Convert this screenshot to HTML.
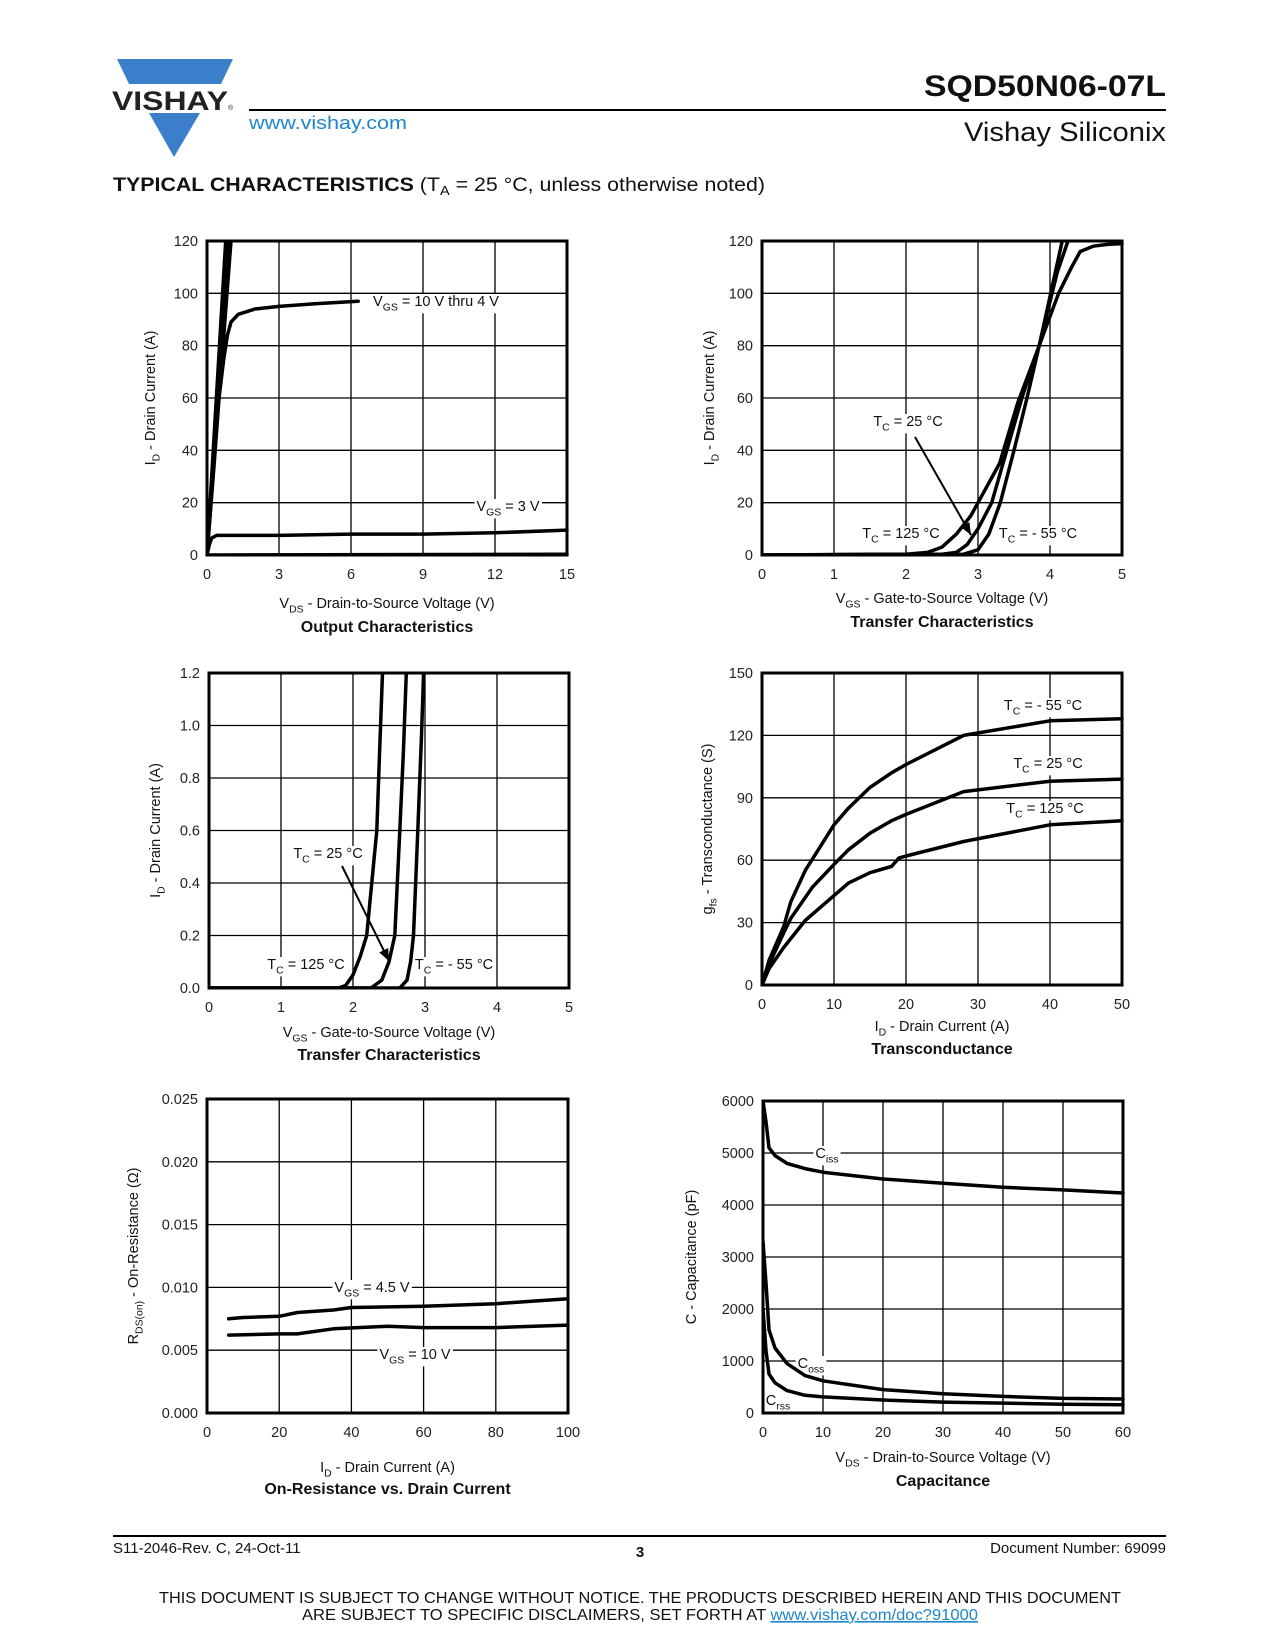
<!DOCTYPE html>
<html><head><meta charset="utf-8"><title>SQD50N06-07L Typical Characteristics</title>
<style>
html,body{margin:0;padding:0;background:#fff;}
svg{display:block;font-family:"Liberation Sans",Arial,sans-serif;}
</style></head>
<body>
<svg id="page" width="1275" height="1650" viewBox="0 0 1275 1650" xmlns="http://www.w3.org/2000/svg">
  <g>
    <polygon points="117,59 233,59 221,84 129,84" fill="#3b7fca"/>
    <text x="112" y="110" font-size="27" font-weight="bold" textLength="116" lengthAdjust="spacingAndGlyphs" fill="#222">VISHAY</text>
    <text x="228" y="110" font-size="7" fill="#222">®</text>
    <polygon points="149,113 200,113 174,157" fill="#3b7fca"/>
  </g>
  <text x="1166" y="96" font-size="30" font-weight="bold" text-anchor="end" textLength="242" lengthAdjust="spacingAndGlyphs" fill="#111">SQD50N06-07L</text>
  <line x1="249" y1="110" x2="1166" y2="110" stroke="#000" stroke-width="2"/>
  <text x="249" y="129" font-size="18" fill="#1e86c8" textLength="158" lengthAdjust="spacingAndGlyphs">www.vishay.com</text>
  <text x="1166" y="141" font-size="27" text-anchor="end" textLength="202" lengthAdjust="spacingAndGlyphs" fill="#111">Vishay Siliconix</text>
  <text x="113" y="191" font-size="19" fill="#111" textLength="652" lengthAdjust="spacingAndGlyphs"><tspan font-weight="bold">TYPICAL CHARACTERISTICS</tspan> (T<tspan font-size="13" dy="4">A</tspan><tspan dy="-4"> = 25 °C, unless otherwise noted)</tspan></text>

  <g id="charts"></g>

  <line x1="113" y1="1536" x2="1166" y2="1536" stroke="#000" stroke-width="2"/>
  <text x="113" y="1553" font-size="15" fill="#111">S11-2046-Rev. C, 24-Oct-11</text>
  <text x="640" y="1557" font-size="15" font-weight="bold" text-anchor="middle" fill="#111">3</text>
  <text x="1166" y="1553" font-size="15" text-anchor="end" fill="#111">Document Number: 69099</text>
  <text x="640" y="1603" font-size="16" text-anchor="middle" textLength="962" lengthAdjust="spacingAndGlyphs" fill="#111">THIS DOCUMENT IS SUBJECT TO CHANGE WITHOUT NOTICE. THE PRODUCTS DESCRIBED HEREIN AND THIS DOCUMENT</text>
  <text x="640" y="1620" font-size="16" text-anchor="middle" fill="#111" textLength="676" lengthAdjust="spacingAndGlyphs">ARE SUBJECT TO SPECIFIC DISCLAIMERS, SET FORTH AT <tspan fill="#1e86c8" text-decoration="underline">www.vishay.com/doc?91000</tspan></text>
</svg>
<script>
// ---------- Chart data ----------
const out_bundleTopV = [0.78, 0.85, 0.92, 1.0];
const out_v4_x = [0, 0.3, 0.5, 0.7, 0.85, 1.0, 1.3, 2, 3, 4.5, 6.3];
const out_v4_y = [0, 35, 60, 75, 84, 89, 92, 94, 95, 96, 97];
const out_v3_x = [0, 0.1, 0.2, 0.4, 3, 6, 9, 12, 15];
const out_v3_y = [0, 4, 6.5, 7.5, 7.5, 8, 8, 8.5, 9.5];
const out_v2_x = [0, 15];
const out_v2_y = [0, 0.3];
const tr_x125 = [0, 2, 2.3, 2.5, 2.7, 2.9, 3.0, 3.3, 3.55, 3.85, 4.17];
const tr_y125 = [0, 0.3, 1, 3, 8, 15, 20, 35, 58, 80, 120];
const tr_x25 = [0, 2.5, 2.7, 2.85, 3.0, 3.19, 3.4, 3.61, 3.85, 4.1, 4.25];
const tr_y25 = [0, 0.3, 1, 4, 10, 20, 40, 60, 80, 108, 120];
const tr_x55 = [0, 2.8, 3.0, 3.15, 3.31, 3.5, 3.68, 3.85, 4.12, 4.3, 4.42, 4.6, 4.8, 5];
const tr_y55 = [0, 0.3, 2, 8, 20, 40, 60, 80, 100, 110, 116, 118, 118.7, 119];
const tl_x125 = [0, 1.8, 1.9, 2.0, 2.1, 2.19, 2.33, 2.37, 2.41];
const tl_y125 = [0, 0, 0.01, 0.05, 0.12, 0.2, 0.6, 0.9, 1.2];
const tl_x25 = [0, 2.25, 2.4, 2.5, 2.58, 2.65, 2.7, 2.74];
const tl_y25 = [0, 0, 0.03, 0.1, 0.2, 0.6, 0.9, 1.2];
const tl_x55 = [0, 2.65, 2.75, 2.8, 2.84, 2.9, 2.95, 2.98];
const tl_y55 = [0, 0, 0.03, 0.1, 0.2, 0.6, 0.95, 1.2];
const gm_x55 = [0, 1, 3, 4, 6, 10, 12, 15, 18, 20, 28, 40, 50];
const gm_y55 = [0, 12, 28, 40, 55, 77, 85, 95, 102, 106, 120, 127, 128];
const gm_x25 = [0, 1, 3, 4, 7, 10, 12, 15, 18, 20, 28, 40, 50];
const gm_y25 = [0, 10, 25, 32, 47, 58, 65, 73, 79, 82, 93, 98, 99];
const gm_x125 = [0, 1, 3, 6, 10, 12, 15, 18, 19, 20, 28, 40, 50];
const gm_y125 = [0, 8, 18, 31, 43, 49, 54, 57, 61, 62, 69, 77, 79];
const rds_x45 = [6, 10, 20, 25, 35, 40, 60, 80, 100];
const rds_y45 = [0.0075, 0.0076, 0.0077, 0.0080, 0.0082, 0.0084, 0.0085, 0.0087, 0.0091];
const rds_x10 = [6, 20, 25, 35, 50, 60, 80, 100];
const rds_y10 = [0.0062, 0.0063, 0.0063, 0.0067, 0.0069, 0.0068, 0.0068, 0.0070];
const cap_x = [0, 0.5, 1, 2, 4, 7, 10, 20, 30, 40, 50, 60];
const cap_ciss = [6000, 5600, 5100, 4950, 4800, 4700, 4630, 4500, 4420, 4340, 4290, 4230];
const cap_coss = [3300, 2500, 1600, 1250, 950, 720, 620, 450, 370, 320, 280, 270];
const cap_crss = [2000, 1200, 750, 580, 430, 340, 310, 250, 210, 190, 170, 160];
const ticks1x = ["0","3","6","9","12","15"], ticks1y = ["0","20","40","60","80","100","120"];
const ticks2x = ["0","1","2","3","4","5"], ticks2y = ["0","20","40","60","80","100","120"];
const ticks3x = ["0","1","2","3","4","5"], ticks3y = ["0.0","0.2","0.4","0.6","0.8","1.0","1.2"];
const ticks4x = ["0","10","20","30","40","50"], ticks4y = ["0","30","60","90","120","150"];
const ticks5x = ["0","20","40","60","80","100"], ticks5y = ["0.000","0.005","0.010","0.015","0.020","0.025"];
const ticks6x = ["0","10","20","30","40","50","60"], ticks6y = ["0","1000","2000","3000","4000","5000","6000"];

// ---------- helpers ----------
const NS = "http://www.w3.org/2000/svg";
const root = document.getElementById("charts");
function mk(tag, attrs, parent) {
  const e = document.createElementNS(NS, tag);
  for (const k in attrs) e.setAttribute(k, attrs[k]);
  (parent || root).appendChild(e);
  return e;
}
function rich(g, x, y, s, size, anchor, bold, bg) {
  const t = mk("text", {x: x, y: y, "font-size": size, "text-anchor": anchor || "middle", fill: "#111"}, g);
  if (bold) t.setAttribute("font-weight", "bold");
  const re = /_\{([^}]*)\}/g; let last = 0, m, down = false;
  function add(str, sub) {
    if (!str) return;
    const ts = document.createElementNS(NS, "tspan");
    ts.textContent = str;
    if (sub) { ts.setAttribute("font-size", size * 0.72); ts.setAttribute("dy", size * 0.3); down = true; }
    else if (down) { ts.setAttribute("dy", -size * 0.3); down = false; }
    t.appendChild(ts);
  }
  while ((m = re.exec(s))) { add(s.slice(last, m.index), false); add(m[1], true); last = re.lastIndex; }
  add(s.slice(last), false);
  if (bg) {
    const b = t.getBBox();
    const r = document.createElementNS(NS, "rect");
    r.setAttribute("x", b.x - 2); r.setAttribute("y", b.y); r.setAttribute("width", b.width + 4); r.setAttribute("height", b.height);
    r.setAttribute("fill", "#fff");
    g.insertBefore(r, t);
  }
  return t;
}
function chart(name, box, xmin, xmax, ymin, ymax, tx, ty, xTitle, yTitle, yTitleX, caption, xTitleY, capY) {
  const g = mk("g", {});
  
  
  const c = {g: g, sx: v => box[0] + (v - xmin) / (xmax - xmin) * (box[2] - box[0]),
             sy: v => box[3] - (v - ymin) / (ymax - ymin) * (box[3] - box[1])};
  const grid = mk("g", {stroke: "#000", "stroke-width": 1.3}, g);
  
  
  for (let i = 1; i < tx.length - 1; i++) { const x = box[0] + i * (box[2] - box[0]) / (tx.length - 1); mk("line", {x1: x, x2: x, y1: box[1], y2: box[3]}, grid); }
  for (let i = 1; i < ty.length - 1; i++) { const y = box[3] - i * (box[3] - box[1]) / (ty.length - 1); mk("line", {x1: box[0], x2: box[2], y1: y, y2: y}, grid); }
  const xt = mk("g", {"font-size": 14.5, fill: "#222", "text-anchor": "middle"}, g);
  
  
  tx.forEach((s, i) => { const t = mk("text", {x: box[0] + i * (box[2] - box[0]) / (tx.length - 1), y: box[3] + 24}, xt); t.textContent = s; });
  const yt = mk("g", {"font-size": 14.5, fill: "#222", "text-anchor": "end"}, g);
  
  
  ty.forEach((s, i) => { const t = mk("text", {x: box[0] - 9, y: box[3] - i * (box[3] - box[1]) / (ty.length - 1) + 5}, yt); t.textContent = s; });
  const cx = (box[0] + box[2]) / 2;
  const xtl = rich(g, cx, xTitleY, xTitle, 14.5, "middle");
  
  
  const cy = (box[1] + box[3]) / 2;
  const ytl = rich(g, 0, 0, yTitle, 14.5, "middle");
  ytl.setAttribute("transform", `translate(${yTitleX},${cy}) rotate(-90)`);
  
  
  const cap = rich(g, cx, capY, caption, 16, "middle", true);
  
  
  c.frame = () => {
    const f = mk("rect", {x: box[0], y: box[1], width: box[2] - box[0], height: box[3] - box[1], fill: "none", stroke: "#000", "stroke-width": 3}, g);
    
    
  };
  c.clip = name + "-clip";
  const cp = mk("clipPath", {id: c.clip}, g);
  mk("rect", {x: box[0], y: box[1] - 1, width: box[2] - box[0] + 2, height: box[3] - box[1] + 1}, cp);
  return c;
}
function series(c, xs, ys, nm) {
  const d = xs.map((x, i) => (i ? "L" : "M") + c.sx(x).toFixed(1) + "," + c.sy(ys[i]).toFixed(1)).join(" ");
  const p = mk("path", {d: d, fill: "none", stroke: "#000", "stroke-width": 3.5, "stroke-linejoin": "round", "stroke-linecap": "round", "clip-path": "url(#" + c.clip + ")"}, c.g);
  
  
  return p;
}
function label(c, x, y, s, nm) {
  const t = rich(c.g, x, y, s, 14.5, "middle", false, true);
  
  
}
function arrow(c, x1, y1, x2, y2, nm) {
  const ln = mk("line", {x1: x1, y1: y1, x2: x2, y2: y2, stroke: "#000", "stroke-width": 2}, c.g);
  
  
  const a = Math.atan2(y2 - y1, x2 - x1), L = 12, W = 5;
  const bx = x2 - L * Math.cos(a), by = y2 - L * Math.sin(a);
  const hd = mk("polygon", {points: `${x2},${y2} ${bx - W * Math.sin(a)},${by + W * Math.cos(a)} ${bx + W * Math.sin(a)},${by - W * Math.cos(a)}`, fill: "#000"}, c.g);
  
  
}

// ---------- Chart 1: Output ----------
const c1 = chart("output-characteristics-chart", [207, 241, 567, 555], 0, 15, 0, 120, ticks1x, ticks1y,
  "V_{DS} - Drain-to-Source Voltage (V)", "I_{D} - Drain Current (A)", 155, "Output Characteristics", 608, 632);
label(c1, 436, 306, "V_{GS} = 10 V thru 4 V", "label-vgs-10-thru-4");
label(c1, 508, 511, "V_{GS} = 3 V", "label-vgs-3");
out_bundleTopV.forEach((v, i) => series(c1, [0, v], [0, 120], "vgs-bundle-line-" + i));
series(c1, out_v4_x, out_v4_y, "vgs-4v-curve");
series(c1, out_v3_x, out_v3_y, "vgs-3v-curve");
series(c1, out_v2_x, out_v2_y, "vgs-low-curve");
c1.frame();

// ---------- Chart 2: Transfer ----------
const c2 = chart("transfer-characteristics-chart", [762, 241, 1122, 555], 0, 5, 0, 120, ticks2x, ticks2y,
  "V_{GS} - Gate-to-Source Voltage (V)", "I_{D} - Drain Current (A)", 714, "Transfer Characteristics", 603, 627);
label(c2, 908, 426, "T_{C} = 25 °C", "label-tc-25");
label(c2, 901, 538, "T_{C} = 125 °C", "label-tc-125");
label(c2, 1038, 538, "T_{C} = - 55 °C", "label-tc-minus55");
series(c2, tr_x125, tr_y125, "tc-125-curve");
series(c2, tr_x25, tr_y25, "tc-25-curve");
series(c2, tr_x55, tr_y55, "tc-minus55-curve");
arrow(c2, 915, 437, 971, 535, "arrow-tc-25");
c2.frame();

// ---------- Chart 3: Transfer low ----------
const c3 = chart("transfer-low-current-chart", [209, 673, 569, 988], 0, 5, 0, 1.2, ticks3x, ticks3y,
  "V_{GS} - Gate-to-Source Voltage (V)", "I_{D} - Drain Current (A)", 160, "Transfer Characteristics", 1037, 1060);
label(c3, 328, 858, "T_{C} = 25 °C", "label-tc-25-low");
label(c3, 306, 969, "T_{C} = 125 °C", "label-tc-125-low");
label(c3, 454, 969, "T_{C} = - 55 °C", "label-tc-minus55-low");
series(c3, tl_x125, tl_y125, "tc-125-curve-low");
series(c3, tl_x25, tl_y25, "tc-25-curve-low");
series(c3, tl_x55, tl_y55, "tc-minus55-curve-low");
arrow(c3, 342, 866, 389, 961, "arrow-tc-25-low");
c3.frame();

// ---------- Chart 4: Transconductance ----------
const c4 = chart("transconductance-chart", [762, 673, 1122, 985], 0, 50, 0, 150, ticks4x, ticks4y,
  "I_{D} - Drain Current (A)", "g_{fs} - Transconductance (S)", 712, "Transconductance", 1031, 1054);
label(c4, 1043, 710, "T_{C} = - 55 °C", "label-gfs-minus55");
label(c4, 1048, 768, "T_{C} = 25 °C", "label-gfs-25");
label(c4, 1045, 813, "T_{C} = 125 °C", "label-gfs-125");
series(c4, gm_x55, gm_y55, "gfs-minus55-curve");
series(c4, gm_x25, gm_y25, "gfs-25-curve");
series(c4, gm_x125, gm_y125, "gfs-125-curve");
c4.frame();

// ---------- Chart 5: On-resistance ----------
const c5 = chart("on-resistance-chart", [207, 1099, 568, 1413], 0, 100, 0, 0.025, ticks5x, ticks5y,
  "I_{D} - Drain Current (A)", "R_{DS(on)} - On-Resistance (Ω)", 138, "On-Resistance vs. Drain Current", 1472, 1494);
label(c5, 372, 1292, "V_{GS} = 4.5 V", "label-rds-4v5");
label(c5, 415, 1359, "V_{GS} = 10 V", "label-rds-10v");
series(c5, rds_x45, rds_y45, "rds-vgs-4v5-curve");
series(c5, rds_x10, rds_y10, "rds-vgs-10v-curve");
c5.frame();

// ---------- Chart 6: Capacitance ----------
const c6 = chart("capacitance-chart", [763, 1101, 1123, 1413], 0, 60, 0, 6000, ticks6x, ticks6y,
  "V_{DS} - Drain-to-Source Voltage (V)", "C - Capacitance (pF)", 696, "Capacitance", 1462, 1486);
label(c6, 827, 1158, "C_{iss}", "label-ciss");
label(c6, 811, 1368, "C_{oss}", "label-coss");
label(c6, 778, 1405, "C_{rss}", "label-crss");
series(c6, cap_x, cap_ciss, "ciss-curve");
series(c6, cap_x, cap_coss, "coss-curve");
series(c6, cap_x, cap_crss, "crss-curve");
c6.frame();
</script>
</body></html>
